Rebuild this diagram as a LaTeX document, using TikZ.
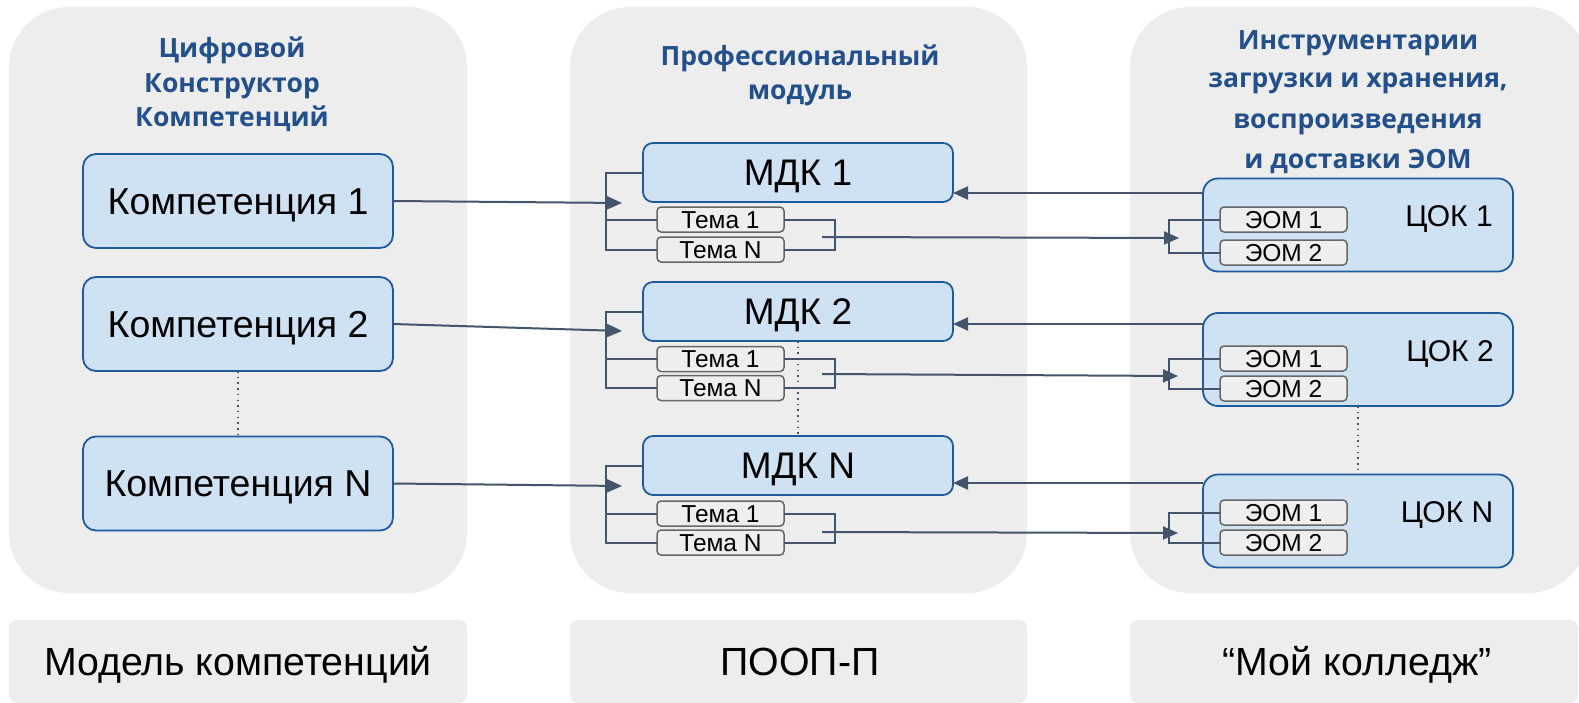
\documentclass[tikz,border=0pt]{standalone}
\usepackage{fontspec}
\setmainfont{Liberation Sans}
\newfontfamily\headfont{Open Sans}
\usetikzlibrary{arrows.meta}

\definecolor{panelgray}{HTML}{EDEDED}
\definecolor{boxblue}{HTML}{CFE2F3}
\definecolor{boxedge}{HTML}{1F5B9C}
\definecolor{tagedge}{HTML}{666666}
\definecolor{tagfill}{HTML}{EEEEEE}
\definecolor{linkcol}{HTML}{44546A}
\definecolor{headblue}{HTML}{23508A}

\tikzset{
  panel/.style={fill=panelgray, rounded corners=60bp},
  footbox/.style={fill=panelgray, rounded corners=8bp},
  bluebox/.style={draw=boxedge, fill=boxblue, line width=1.8bp, inner sep=0pt,
    outer sep=0pt, minimum width=310bp, text depth=0pt},
  compbox/.style={bluebox, rounded corners=13bp, minimum height=94bp,
    font=\fontsize{37.5bp}{42bp}\selectfont, text height=26.5bp},
  mdkbox/.style={bluebox, rounded corners=10bp, minimum height=59bp,
    font=\fontsize{37bp}{42bp}\selectfont, text height=26.3bp},
  cokbox/.style={bluebox, rounded corners=15bp, minimum height=93bp},
  coklabel/.style={inner sep=0pt, font=\fontsize{30bp}{34bp}\selectfont,
    text height=21.5bp, text depth=0pt},
  tagbox/.style={draw=tagedge, fill=tagfill, line width=1.5bp, rounded corners=4bp,
    inner sep=0pt, outer sep=0pt, minimum width=127bp, minimum height=25bp,
    font=\fontsize{24.5bp}{27bp}\selectfont, text height=17.5bp, text depth=0pt},
  headline/.style={anchor=base, inner sep=0pt, text=headblue,
    font=\headfont\bfseries\fontsize{26.5bp}{30bp}\selectfont},
  footline/.style={anchor=base, inner sep=0pt, font=\fontsize{39.3bp}{44bp}\selectfont},
  link/.style={draw=linkcol, line width=2bp, -{Triangle[length=15bp,width=13bp]}},
  bracket/.style={draw=linkcol, line width=2bp},
  dotline/.style={draw=linkcol, line width=1.5bp, dash pattern=on 1.5bp off 4.2bp}
}

\begin{document}
\begin{tikzpicture}[x=1bp, y=-1bp]
\useasboundingbox (0,0) rectangle (1579,703);

% column backgrounds
\fill[panel] (9,7) rectangle (467,593);
\fill[panel] (570,7) rectangle (1027,593);
\fill[panel] (1130,7) rectangle (1588,593);

% footer plates
\fill[footbox] (9,620) rectangle (467,703);
\fill[footbox] (570,620) rectangle (1027,703);
\fill[footbox] (1130,620) rectangle (1578,703);

% column headings
\node[headline] (hl1) at (232,58) {Цифровой};
\node[headline] (hl2) at (232,93) {Конструктор};
\node[headline] (hl3) at (232,127) {Компетенций};
\node[headline] (hm1) at (800,66) {Профессиональный};
\node[headline] (hm2) at (800,100) {модуль};
\node[headline] (hr1) at (1358,50) {Инструментарии};
\node[headline] (hr2) at (1358,88) {загрузки и хранения,};
\node[headline] (hr3) at (1358,129) {воспроизведения};
\node[headline] (hr4) at (1358,168) {и доставки ЭОМ};

% footer captions
\node[footline] (f1) at (238,675) {Модель компетенций};
\node[footline] (f2) at (800,675) {ПООП-П};
\node[footline] (f3) at (1357,675) {“Мой колледж”};

% competences
\node[compbox] (comp1) at (238,201) {Компетенция 1};
\node[compbox] (comp2) at (238,324) {Компетенция 2};
\node[compbox] (compN) at (238,483.5) {Компетенция N};
\draw[dotline] (comp2.south) -- (compN.north);

% modules
\node[mdkbox] (mdk1) at (798,172.5) {МДК 1};
\node[mdkbox] (mdk2) at (798,311.5) {МДК 2};
\node[mdkbox] (mdkN) at (798,465.5) {МДК N};
\draw[dotline] (mdk2.south) -- (mdkN.north);

\node[tagbox] (t11) at (720.5,219.5) {Тема 1};
\node[tagbox] (tn1) at (720.5,249.5) {Тема N};
\node[tagbox] (t12) at (720.5,359) {Тема 1};
\node[tagbox] (tn2) at (720.5,388) {Тема N};
\node[tagbox] (t1N) at (720.5,513.5) {Тема 1};
\node[tagbox] (tnN) at (720.5,542.5) {Тема N};

% content blocks
\node[cokbox] (cok1) at (1358,225) {};
\node[cokbox] (cok2) at (1358,359.5) {};
\node[cokbox] (cokN) at (1358,521) {};
\draw[dotline] (cok2.south) -- (cokN.north);

\node[coklabel] (lc1) at (1449,216) {ЦОК 1};
\node[coklabel] (lc2) at (1450,350.5) {ЦОК 2};
\node[coklabel] (lcN) at (1447,512) {ЦОК N};

\node[tagbox] (e11) at (1283.5,219.5) {ЭОМ 1};
\node[tagbox] (e21) at (1283.5,252.5) {ЭОМ 2};
\node[tagbox] (e12) at (1283.5,358.5) {ЭОМ 1};
\node[tagbox] (e22) at (1283.5,388.5) {ЭОМ 2};
\node[tagbox] (e1N) at (1283.5,512.5) {ЭОМ 1};
\node[tagbox] (e2N) at (1283.5,542.5) {ЭОМ 2};

% entry points of the arrows
\coordinate (in1) at (622,203);
\coordinate (in2) at (622,331);
\coordinate (inN) at (622,486);
\coordinate (out1) at (822,237);
\coordinate (out2) at (822,374);
\coordinate (outN) at (822,532);
\coordinate (eo1) at (1179,238);
\coordinate (eo2) at (1178,376);
\coordinate (eoN) at (1178,533);
\coordinate (back1) at ([yshift=32bp]cok1.west);
\coordinate (back2) at ([yshift=35.5bp]cok2.west);
\coordinate (backN) at ([yshift=38bp]cokN.west);

% module brackets
\foreach \m/\a/\b in {mdk1/t11/tn1, mdk2/t12/tn2, mdkN/t1N/tnN}{
  \draw[bracket] (\m.west) -- ++(-37,0) |- (\b.west);
  \draw[bracket] (\a.west) -- ++(-51,0);
  \draw[bracket] (\a.east) -- ++(51,0) |- (\b.east);
}
% content brackets
\foreach \a/\b in {e11/e21, e12/e22, e1N/e2N}{
  \draw[bracket] (\a.west) -- ++(-51,0) |- (\b.west);
}

% competences -> modules
\draw[link] (comp1.east) -- (in1);
\draw[link] (comp2.east) -- (in2);
\draw[link] (compN.east) -- (inN);

% topics -> learning objects
\draw[link] (out1) -- (eo1);
\draw[link] (out2) -- (eo2);
\draw[link] (outN) -- (eoN);

% content blocks -> modules
\draw[link] (back1) -- (mdk1.east |- back1);
\draw[link] (back2) -- (mdk2.east |- back2);
\draw[link] (backN) -- (mdkN.east |- backN);
\end{tikzpicture}
\end{document}
